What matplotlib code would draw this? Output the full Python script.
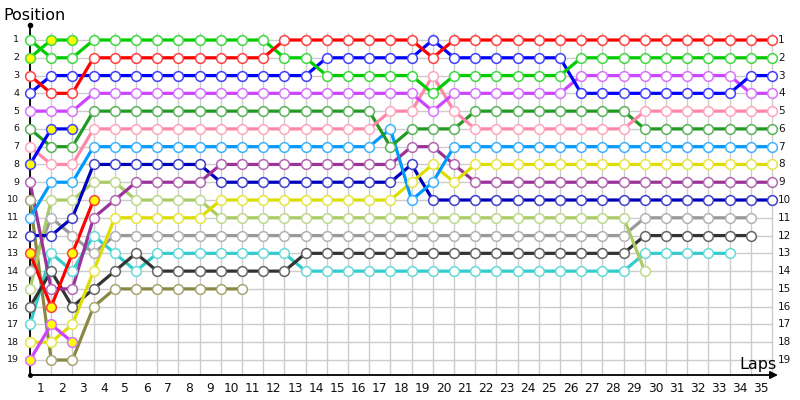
import matplotlib
matplotlib.use("Agg")
import matplotlib.pyplot as plt
import matplotlib.colors as mcolors

# ---- data: positions per lap, starting at lap 0 (grid) ----
laps_total = 35
n_positions = 19

red      = [3,4,4,2,2,2,2,2,2,2,2,2,1,1,1,1,1,1,1,2,1,1,1,1,1,1,1,1,1,1,1,1,1,1,1,1]
green    = [1,2,2,1,1,1,1,1,1,1,1,1,2,2,3,3,3,3,3,4,3,3,3,3,3,3,2,2,2,2,2,2,2,2,2,2]
blue     = [4,3,3,3,3,3,3,3,3,3,3,3,3,3,2,2,2,2,2,1,2,2,2,2,2,2,4,4,4,4,4,4,4,4,3,3]
violet   = [5,5,5,4,4,4,4,4,4,4,4,4,4,4,4,4,4,4,4,5,4,4,4,4,4,4,3,3,3,3,3,3,3,3,4,4]
dkgreen  = [6,7,7,5,5,5,5,5,5,5,5,5,5,5,5,5,5,7,6,6,6,5,5,5,5,5,5,5,5,6,6,6,6,6,6,6]
pink     = [7,8,8,6,6,6,6,6,6,6,6,6,6,6,6,6,6,5,5,3,5,6,6,6,6,6,6,6,6,5,5,5,5,5,5,5]
ltblue   = [11,9,9,7,7,7,7,7,7,7,7,7,7,7,7,7,7,6,10,9,7,7,7,7,7,7,7,7,7,7,7,7,7,7,7,7]
yellow   = [18,18,17,14,11,11,11,11,11,10,10,10,10,10,10,10,10,10,9,8,9,8,8,8,8,8,8,8,8,8,8,8,8,8,8,8]
purple   = [9,15,15,11,10,9,9,9,9,8,8,8,8,8,8,8,8,8,7,7,8,9,9,9,9,9,9,9,9,9,9,9,9,9,9,9]
navy     = [12,12,11,8,8,8,8,8,8,9,9,9,9,9,9,9,9,9,8,10,10,10,10,10,10,10,10,10,10,10,10,10,10,10,10,10]
ltgreen  = [15,10,10,9,9,10,10,10,10,11,11,11,11,11,11,11,11,11,11,11,11,11,11,11,11,11,11,11,11,14]
gray     = [14,11,12,13,12,12,12,12,12,12,12,12,12,12,12,12,12,12,12,12,12,12,12,12,12,12,12,12,12,11,11,11,11,11,11]
black    = [16,14,16,15,14,13,14,14,14,14,14,14,14,13,13,13,13,13,13,13,13,13,13,13,13,13,13,13,13,12,12,12,12,12,12]
cyan     = [17,13,14,12,13,14,13,13,13,13,13,13,13,14,14,14,14,14,14,14,14,14,14,14,14,14,14,14,14,13,13,13,13,13]
olive    = [10,19,19,16,15,15,15,15,15,15,15]
green2   = [2,1,1]
blue2    = [8,6,6]
violet2  = [19,17,18]
red2     = [13,16,13,10]

drivers = [
    # (positions, colour, retired-early marker fill)
    (olive,   "#888844", False),
    (cyan,    "#33cccc", False),
    (black,   "#333333", False),
    (gray,    "#999999", False),
    (ltgreen, "#aacc66", False),
    (navy,    "#0000bb", False),
    (purple,  "#993399", False),
    (yellow,  "#dddd00", False),
    (ltblue,  "#0099ff", False),
    (dkgreen, "#229922", False),
    (pink,    "#ff88aa", False),
    (violet,  "#cc44ff", False),
    (blue,    "#0000ff", False),
    (green,   "#00cc00", False),
    (red,     "#ff0000", False),
    (violet2, "#cc44ff", True),
    (red2,    "#ff0000", True),
    (blue2,   "#0000ff", True),
    (green2,  "#00cc00", True),
]

lap_labels = [str(i) for i in range(1, laps_total + 1)]
pos_labels = [str(i) for i in range(1, n_positions + 1)]

# ---- figure ----
W, H = 800, 400
fig = plt.figure(figsize=(8, 4), dpi=100)
x0_px, x35_px = 30, 772
y1_px, y19_px = 40, 360
ax = fig.add_axes([x0_px / W, 1 - y19_px / H, (x35_px - x0_px) / W, (y19_px - y1_px) / H])
ax.set_xlim(0, laps_total)
ax.set_ylim(n_positions, 1)
ax.axis("off")

px_x = laps_total / (x35_px - x0_px)       # laps per pixel
px_y = (n_positions - 1) / (y19_px - y1_px)  # positions per pixel

def ypos(py):
    return 1 + (py - y1_px) * px_y

def xlap(px):
    return (px - x0_px) * px_x

grid_c = "#cccccc"
y_top_grid = ypos(33)
y_axis_bottom = ypos(375)
for lap in range(0, laps_total + 1):
    ax.plot([lap, lap], [y_top_grid, y_axis_bottom], color=grid_c, lw=1, zorder=1, clip_on=False)
for p in range(1, n_positions + 1):
    ax.plot([0, laps_total], [p, p], color=grid_c, lw=1, zorder=1, clip_on=False)

# axes lines
ax.plot([0, 0], [ypos(25), y_axis_bottom], color="black", lw=1.3, zorder=2, clip_on=False)
ax.plot([0], [ypos(25)], marker="o", ms=3, color="black", zorder=2, clip_on=False)
ax.plot([0], [y_axis_bottom], marker="o", ms=2.5, color="black", zorder=2, clip_on=False)
ax.annotate("", xy=(xlap(778), y_axis_bottom), xytext=(0, y_axis_bottom),
            arrowprops=dict(arrowstyle="-|>", color="black", lw=1.3, mutation_scale=11,
                            shrinkA=0, shrinkB=0), annotation_clip=False, zorder=2)

def lighter(c, f=0.3):
    r, g, b = mcolors.to_rgb(c)
    return (r + (1 - r) * f, g + (1 - g) * f, b + (1 - b) * f)

for positions, col, retired in drivers:
    laps = list(range(len(positions)))
    ax.plot(laps, positions, color=col, lw=2.3, zorder=3, clip_on=False,
            solid_capstyle="round")
    ax.plot(laps, positions, ls="none", marker="o", ms=7,
            markerfacecolor="#ffff00" if retired else "white",
            markeredgecolor=lighter(col, 0.25), markeredgewidth=1.1, zorder=4, clip_on=False)

font = "DejaVu Sans"
for i, lab in enumerate(lap_labels):
    ax.text(i + 0.5, ypos(388), lab, ha="center", va="center", fontsize=8.8,
            family=font, color="#111111", clip_on=False)
for i, lab in enumerate(pos_labels):
    ax.text(xlap(19), i + 1, lab, ha="right", va="center", fontsize=6.8,
            family=font, color="#111111", clip_on=False)
    ax.text(xlap(778), i + 1, lab, ha="left", va="center", fontsize=7.5,
            family=font, color="#111111", clip_on=False)

fig.text(3 / W, 1 - 15 / H, "Position", ha="left", va="center", fontsize=11.5, family=font)
fig.text(758 / W, 1 - 364 / H, "Laps", ha="center", va="center", fontsize=11.5, family=font)

fig.savefig("out.png", dpi=100, facecolor="white")
